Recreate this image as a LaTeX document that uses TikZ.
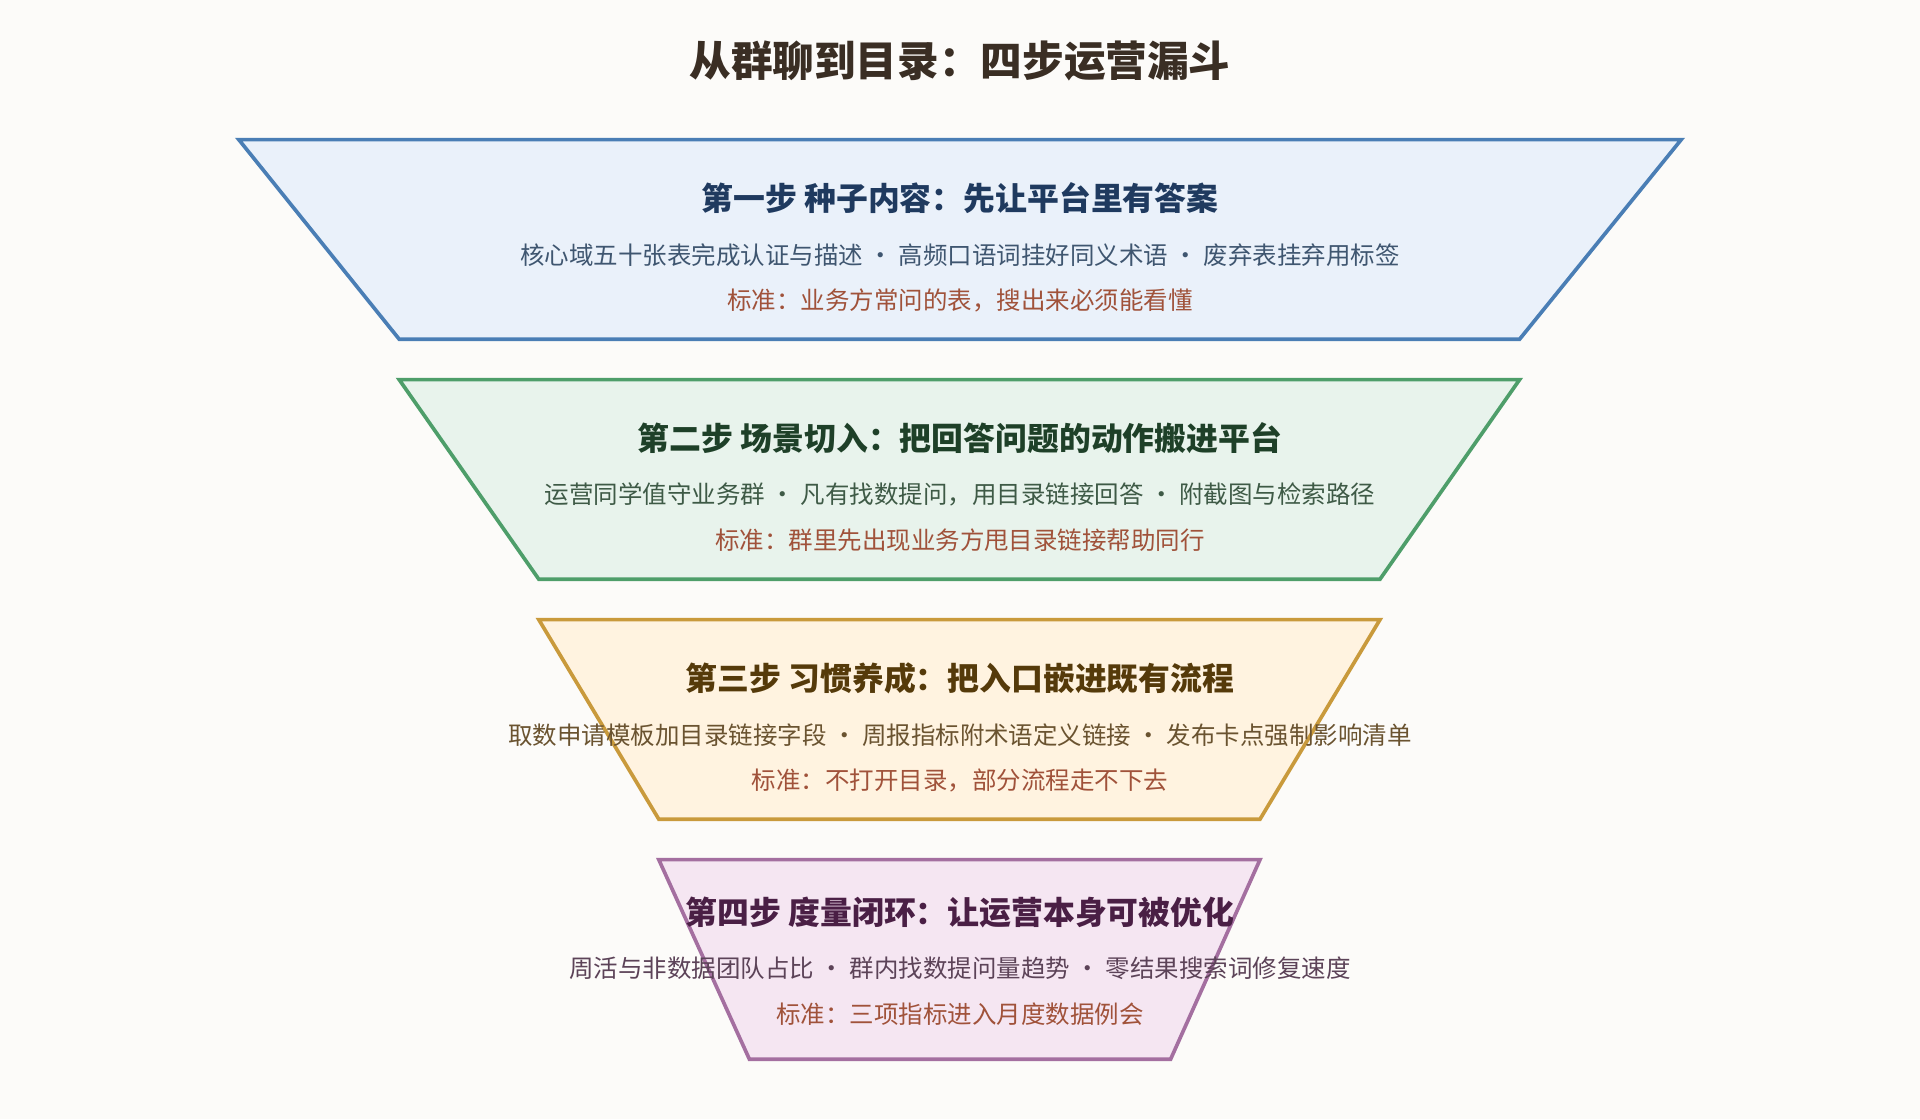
\documentclass[tikz,border=0pt]{standalone}
\usepackage{fontspec}
\setmainfont{Noto Sans CJK SC}
\usetikzlibrary{positioning}
\definecolor{bgc}{HTML}{FCFBF9}
\definecolor{titlec}{HTML}{3A2E24}
\definecolor{fillA}{HTML}{EAF1FA}\definecolor{lineA}{HTML}{4A7EB5}\definecolor{headA}{HTML}{1F3A5F}\definecolor{bodyA}{HTML}{3F5670}
\definecolor{fillB}{HTML}{E8F3EC}\definecolor{lineB}{HTML}{4E9E6A}\definecolor{headB}{HTML}{1E4028}\definecolor{bodyB}{HTML}{3E5A46}
\definecolor{fillC}{HTML}{FFF3E0}\definecolor{lineC}{HTML}{C99A3C}\definecolor{headC}{HTML}{553A0A}\definecolor{bodyC}{HTML}{6A5330}
\definecolor{fillD}{HTML}{F5E6F2}\definecolor{lineD}{HTML}{A46FA0}\definecolor{headD}{HTML}{4A1F45}\definecolor{bodyD}{HTML}{5C4358}
\definecolor{normc}{HTML}{A0523A}
\begin{document}
\begin{tikzpicture}[x=1pt,y=-1pt]
\tikzset{
  stage/.style={line width=3pt, line join=miter},
  head/.style={font=\fontsize{26}{30}\selectfont\bfseries, anchor=center},
  body/.style={font=\fontsize{20}{24}\selectfont, anchor=center},
  norm/.style={body, text=normc}
}
\fill[bgc] (0,0) rectangle (1568,914);
\useasboundingbox (0,0) rectangle (1568,914);
\node[font=\fontsize{34}{40}\selectfont\bfseries, text=titlec] (title) at (784,50) {从群聊到目录：四步运营漏斗};
% -------------------------------------------------
% funnel stages
\draw[stage, fill=fillA, draw=lineA] (195,114) -- (1373,114) -- (1241,277) -- (326,277) -- cycle;
\node[head, text=headA] (h1) at (784,162) {第一步 种子内容：先让平台里有答案};
\node[body, text=bodyA] (b1) at (784,208) {核心域五十张表完成认证与描述 · 高频口语词挂好同义术语 · 废弃表挂弃用标签};
\node[norm] (n1) at (784,245) {标准：业务方常问的表，搜出来必须能看懂};

\draw[stage, fill=fillB, draw=lineB] (326,310) -- (1241,310) -- (1127,473) -- (440,473) -- cycle;
\node[head, text=headB] (h2) at (784,358) {第二步 场景切入：把回答问题的动作搬进平台};
\node[body, text=bodyB] (b2) at (784,404) {运营同学值守业务群 · 凡有找数提问，用目录链接回答 · 附截图与检索路径};
\node[norm] (n2) at (784,441) {标准：群里先出现业务方甩目录链接帮助同行};

\draw[stage, fill=fillC, draw=lineC] (440,506) -- (1127,506) -- (1029,669) -- (538,669) -- cycle;
\node[head, text=headC] (h3) at (784,554) {第三步 习惯养成：把入口嵌进既有流程};
\node[body, text=bodyC] (b3) at (784,600) {取数申请模板加目录链接字段 · 周报指标附术语定义链接 · 发布卡点强制影响清单};
\node[norm] (n3) at (784,637) {标准：不打开目录，部分流程走不下去};

\draw[stage, fill=fillD, draw=lineD] (538,702) -- (1029,702) -- (956,865) -- (612,865) -- cycle;
\node[head, text=headD] (h4) at (784,745) {第四步 度量闭环：让运营本身可被优化};
\node[body, text=bodyD] (b4) at (784,791) {周活与非数据团队占比 · 群内找数提问量趋势 · 零结果搜索词修复速度};
\node[norm] (n4) at (784,828) {标准：三项指标进入月度数据例会};
% -------------------------------------------------
\end{tikzpicture}
\end{document}
